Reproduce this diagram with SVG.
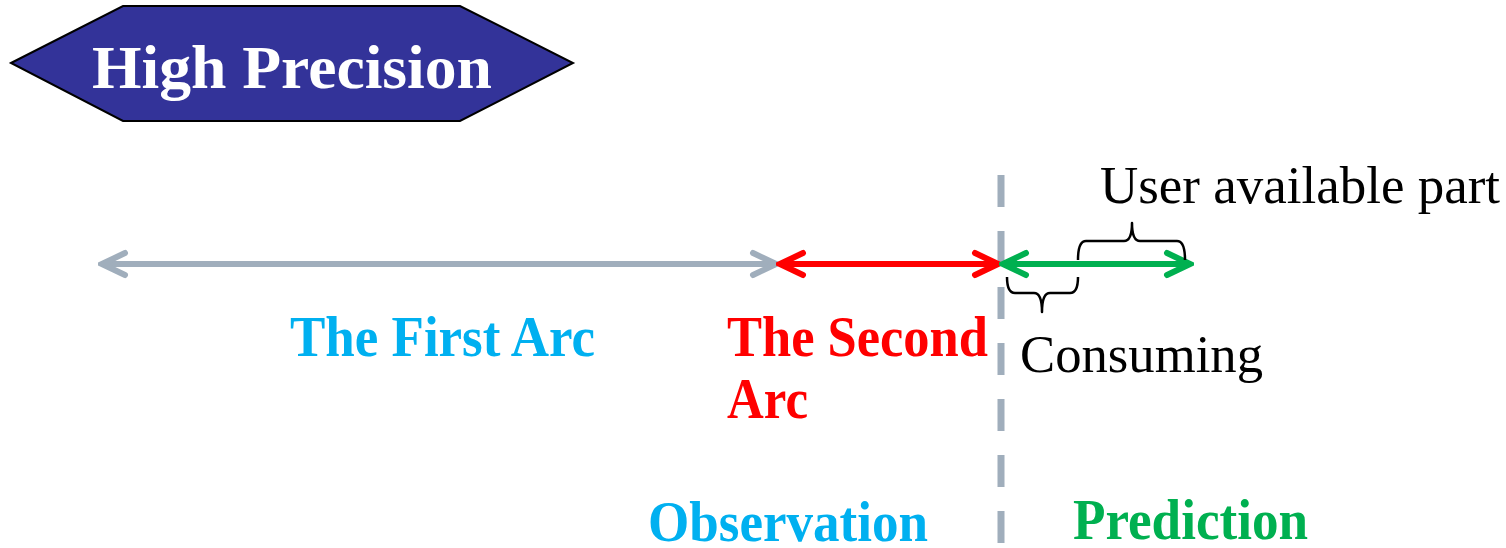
<svg xmlns="http://www.w3.org/2000/svg" width="1506" height="548" viewBox="0 0 1506 548">
<style>
.bold{font-family:"Liberation Serif","Times New Roman",serif;font-weight:bold}
.reg{font-family:"Liberation Serif","Times New Roman",serif;fill:#000}
.brace{fill:none;stroke:#000;stroke-width:2.5;stroke-linejoin:round}
.arr{fill:none;stroke-width:6}
</style>
<defs>
<marker id="mg" viewBox="-30 -16 34 32" markerWidth="34" markerHeight="32" refX="0" refY="0" markerUnits="userSpaceOnUse" orient="auto-start-reverse">
<path d="M-23,-11 L0,0 L-23,11" fill="none" stroke="#A0AEBC" stroke-width="6" stroke-linecap="round" stroke-linejoin="miter"/>
</marker>
<marker id="mr" viewBox="-30 -16 34 32" markerWidth="34" markerHeight="32" refX="0" refY="0" markerUnits="userSpaceOnUse" orient="auto-start-reverse">
<path d="M-23,-11 L0,0 L-23,11" fill="none" stroke="#FF0000" stroke-width="6" stroke-linecap="round"/>
</marker>
<marker id="mgr" viewBox="-30 -16 34 32" markerWidth="34" markerHeight="32" refX="0" refY="0" markerUnits="userSpaceOnUse" orient="auto-start-reverse">
<path d="M-23,-11 L0,0 L-23,11" fill="none" stroke="#00B050" stroke-width="6" stroke-linecap="round"/>
</marker>
</defs>

<g id="title">
<polygon points="11,63 123,6 460,6 573,63 460,121 123,121" fill="#333399" stroke="#000" stroke-width="2"/>
<text class="bold" x="292" y="88" font-size="62" fill="#fff" text-anchor="middle" textLength="400" lengthAdjust="spacingAndGlyphs">High Precision</text>
</g>

<g id="divider">
<line x1="1001" y1="175" x2="1001" y2="548" stroke="#A0AEBC" stroke-width="7" stroke-dasharray="32 24"/>
</g>

<g id="connectors">
<line class="arr" x1="102" y1="264" x2="776" y2="264" stroke="#A0AEBC" marker-start="url(#mg)" marker-end="url(#mg)"/>
<line class="arr" x1="780" y1="264" x2="998" y2="264" stroke="#FF0000" marker-start="url(#mr)" marker-end="url(#mr)"/>
<line class="arr" x1="1003" y1="264" x2="1190" y2="264" stroke="#00B050" marker-start="url(#mgr)" marker-end="url(#mgr)"/>
</g>

<g id="brace-user">
<path class="brace" d="M1078,260 Q1078,241 1086,241 L1124,241 Q1132,241 1132,223 Q1132,241 1140,241 L1177,241 Q1185,241 1185,260"/>
<text class="reg" x="1100" y="203" font-size="53" textLength="400" lengthAdjust="spacingAndGlyphs">User available part</text>
</g>

<g id="brace-consuming">
<path class="brace" d="M1007,277 Q1007,293 1015,293 L1034,293 Q1042,293 1042,312 Q1042,293 1050,293 L1070,293 Q1078,293 1078,277"/>
<text class="reg" x="1020" y="372" font-size="53" textLength="243" lengthAdjust="spacingAndGlyphs">Consuming</text>
</g>

<g id="first-arc">
<text class="bold" x="290" y="356" font-size="57" fill="#00B0F0" textLength="305" lengthAdjust="spacingAndGlyphs">The First Arc</text>
</g>

<g id="second-arc">
<text class="bold" x="727" y="356" font-size="57" fill="#FF0000" textLength="261" lengthAdjust="spacingAndGlyphs">The Second</text>
<text class="bold" x="727" y="418" font-size="57" fill="#FF0000" textLength="81" lengthAdjust="spacingAndGlyphs">Arc</text>
</g>

<g id="observation">
<text class="bold" x="648" y="541" font-size="56" fill="#00B0F0" textLength="280" lengthAdjust="spacingAndGlyphs">Observation</text>
</g>

<g id="prediction">
<text class="bold" x="1073" y="539" font-size="57" fill="#00B050" textLength="235" lengthAdjust="spacingAndGlyphs">Prediction</text>
</g>
</svg>
